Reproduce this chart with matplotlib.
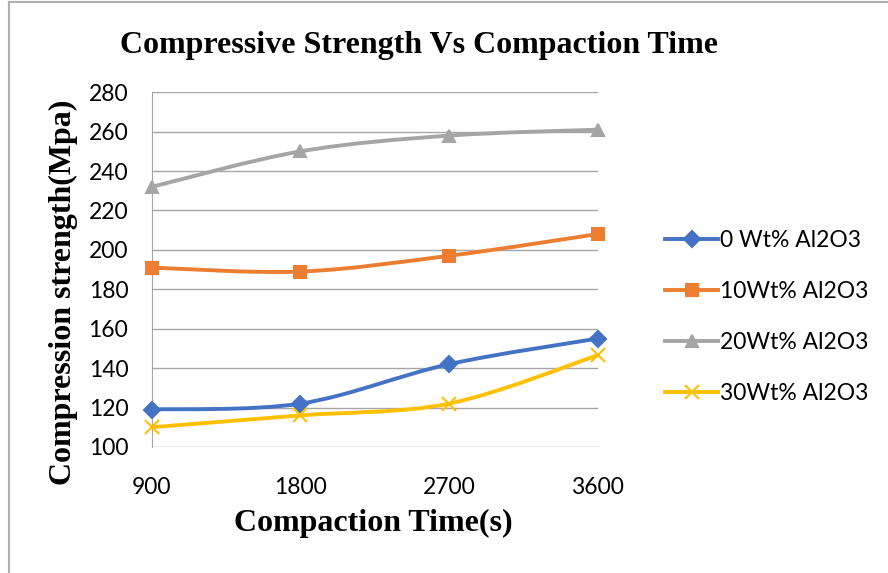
import numpy as np
import matplotlib
matplotlib.use('Agg')
import matplotlib.pyplot as plt
from matplotlib.path import Path
from matplotlib.patches import PathPatch
from matplotlib.lines import Line2D

# data
times = [900, 1800, 2700, 3600]
s0 = [119, 122, 142, 155]
s10 = [191, 189, 197, 208]
s20 = [232, 250, 258, 261]
s30 = [110, 116, 122, 146.5]
labels = ['0 Wt% Al2O3', '10Wt% Al2O3', '20Wt% Al2O3', '30Wt% Al2O3']
yticks = [100, 120, 140, 160, 180, 200, 220, 240, 260, 280]

colors = ['#4472C4', '#ED7D31', '#A5A5A5', '#FFC000']
markers = ['D', 's', '^', 'x']
msizes = [8, 9, 9, 10]


def smooth_path(x, y):
    # excel-like smoothed line: catmull-rom segments drawn as cubic beziers
    pts = np.column_stack([x, y]).astype(float)
    ext = np.vstack([pts[0], pts, pts[-1]])
    verts = [pts[0]]
    codes = [Path.MOVETO]
    for i in range(1, len(ext) - 2):
        p0, p1, p2, p3 = ext[i - 1], ext[i], ext[i + 1], ext[i + 2]
        verts += [p1 + (p2 - p0) / 6, p2 - (p3 - p1) / 6, p2]
        codes += [Path.CURVE4] * 3
    return Path(verts, codes)


plt.rcParams['font.family'] = ['Lato', 'DejaVu Sans']
fig = plt.figure(figsize=(8.88, 5.73), dpi=100)
ax = fig.add_axes([0.171, 0.22, 0.502, 0.619])

series = [s0, s10, s20, s30]
for vals, c, m, ms in zip(series, colors, markers, msizes):
    ax.add_patch(PathPatch(smooth_path(times, vals), facecolor='none',
                           edgecolor=c, lw=2.8, zorder=3, capstyle='round'))
    ax.plot(times, vals, linestyle='none', marker=m, color=c, ms=ms,
            mew=1.5, zorder=4, clip_on=False)

ax.set_xlim(900, 3600)
ax.set_ylim(100, 280)
ax.set_xticks(times)
ax.set_yticks(yticks)
ax.grid(axis='y', color='#a6a6a6', lw=1)
ax.set_axisbelow(True)
for s in ['top', 'right', 'bottom']:
    ax.spines[s].set_visible(False)
ax.spines['left'].set_color('#a6a6a6')
ax.tick_params(axis='both', length=0, labelsize=16.5)
ax.tick_params(axis='y', pad=17)
ax.tick_params(axis='x', pad=22)

handles = [Line2D([0], [0], color=c, marker=m, ms=ms, lw=2.8, mew=1.5)
           for c, m, ms in zip(colors, markers, msizes)]
fig.legend(handles, labels, loc='center left', bbox_to_anchor=(0.726, 0.447),
           frameon=False, fontsize=16.5, handlelength=2.3, handletextpad=0.1,
           labelspacing=1.3)

serif = ['Liberation Serif', 'DejaVu Serif']
fig.text(0.472, 0.92, 'Compressive Strength Vs Compaction Time', ha='center',
         va='center', fontsize=23, fontweight='bold', family=serif)
fig.text(0.42, 0.087, 'Compaction Time(s)', ha='center', va='center',
         fontsize=23, fontweight='bold', family=serif)
fig.text(0.072, 0.489, 'Compression strength(Mpa)', ha='center', va='center',
         rotation=90, fontsize=23, fontweight='bold', family=serif)

# outer frame edges visible in the reference
fig.add_artist(Line2D([0.0101, 0.0101], [0, 0.997], color='#b0b0b0', lw=1.5))
fig.add_artist(Line2D([0.0101, 1], [0.997, 0.997], color='#b0b0b0', lw=1.5))

fig.savefig('out.png', dpi=100)
